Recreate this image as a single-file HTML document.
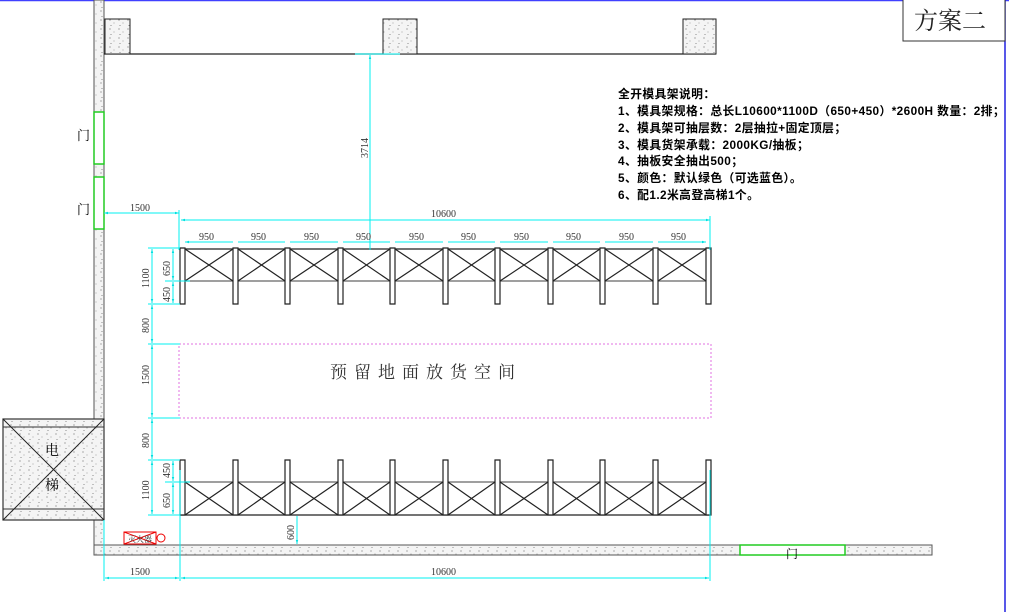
<!DOCTYPE html>
<html><head><meta charset="utf-8"><style>
html,body{margin:0;padding:0;background:#fff}
svg{display:block}
text{font-family:"Liberation Serif","Noto Serif CJK SC",serif}
.c{stroke:#00f0f0;stroke-width:1;fill:none}
.d{font-size:10px;fill:#333}
.n{font-family:"Liberation Sans","Noto Sans CJK SC",sans-serif;font-size:11.8px;font-weight:bold;fill:#000;letter-spacing:0.4px}
</style></head><body>
<svg width="1009" height="612" viewBox="0 0 1009 612" xmlns="http://www.w3.org/2000/svg">
<defs>
<pattern id="st" width="9" height="9" patternUnits="userSpaceOnUse">
<rect width="9" height="9" fill="#f4f4f4"/>
<circle cx="2" cy="2" r="0.6" fill="#777"/><circle cx="6" cy="5" r="0.5" fill="#888"/><circle cx="3" cy="7.5" r="0.5" fill="#666"/>
</pattern>
<marker id="a" viewBox="0 0 10 10" refX="10" refY="5" markerWidth="6" markerHeight="4" orient="auto-start-reverse"><path d="M0,2 L10,5 L0,8z" fill="#00e0e0"/></marker>
</defs>
<line x1="0" y1="0.5" x2="1009" y2="0.5" stroke="#4040ff" stroke-width="1.5"/>
<line x1="1005" y1="0" x2="1005" y2="612" stroke="#2020e0" stroke-width="1.5"/>
<rect x="94" y="0" width="10" height="550" fill="url(#st)" stroke="#555"/>
<rect x="94" y="545" width="838" height="10" fill="url(#st)" stroke="#555"/>
<rect x="94" y="112" width="10" height="52" fill="#fff" stroke="#2c2" stroke-width="1.5"/>
<rect x="94" y="177" width="10" height="52" fill="#fff" stroke="#2c2" stroke-width="1.5"/>
<rect x="740" y="545" width="105" height="10" fill="#fff" stroke="#2c2" stroke-width="1.5"/>
<text x="77" y="140" font-size="13">门</text>
<text x="77" y="214" font-size="13">门</text>
<text x="786" y="558" font-size="12">门</text>
<line x1="104" y1="54" x2="716" y2="54" stroke="#222" stroke-width="1.2"/>
<rect x="105" y="19" width="25" height="35" fill="url(#st)" stroke="#222"/>
<rect x="383" y="19" width="34" height="35" fill="url(#st)" stroke="#222"/>
<rect x="683" y="19" width="33" height="35" fill="url(#st)" stroke="#222"/>
<rect x="3" y="419" width="101" height="101" fill="url(#st)" stroke="#333" stroke-width="1.2"/>
<line x1="3" y1="427" x2="104" y2="427" stroke="#333"/><line x1="3" y1="509" x2="104" y2="509" stroke="#333"/>
<line x1="3" y1="419" x2="104" y2="520" stroke="#222"/><line x1="104" y1="419" x2="3" y2="520" stroke="#222"/>
<text x="45" y="455" font-size="14">电</text><text x="45" y="490" font-size="14">梯</text>
<rect x="124" y="532" width="32" height="12" fill="#fff" stroke="#e00"/>
<line x1="124" y1="532" x2="156" y2="544" stroke="#e00"/><line x1="156" y1="532" x2="124" y2="544" stroke="#e00"/>
<text x="128" y="542" font-size="8" fill="#333">灭火器</text>
<circle cx="161" cy="538" r="4" fill="none" stroke="#e00"/>
<rect x="903" y="-1" width="102" height="42" fill="#fff" stroke="#333"/>
<text x="914" y="29" font-size="24" fill="#222">方案二</text>
<text class="n" x="618" y="98">全开模具架说明：</text>
<text class="n" x="618" y="115">1、模具架规格：总长L10600*1100D（650+450）*2600H 数量：2排；</text>
<text class="n" x="618" y="132">2、模具架可抽层数：2层抽拉+固定顶层；</text>
<text class="n" x="618" y="149">3、模具货架承载：2000KG/抽板；</text>
<text class="n" x="618" y="165">4、抽板安全抽出500；</text>
<text class="n" x="618" y="182">5、颜色：默认绿色（可选蓝色）。</text>
<text class="n" x="618" y="199">6、配1.2米高登高梯1个。</text>
<g stroke="#222" fill="none" stroke-width="1.2">
<line x1="180" y1="249" x2="710" y2="249"/><line x1="180" y1="281" x2="710" y2="281" stroke="#666"/>
<path d="M185,249L233,281M233,249L185,281M238,249L285,281M285,249L238,281M290,249L338,281M338,249L290,281M343,249L390,281M390,249L343,281M395,249L443,281M443,249L395,281M448,249L495,281M495,249L448,281M500,249L548,281M548,249L500,281M553,249L600,281M600,249L553,281M605,249L653,281M653,249L605,281M658,249L706,281M706,249L658,281"/>
<path fill="#fff" d="M180,248h5v56h-5zM233,248h5v56h-5zM285,248h5v56h-5zM338,248h5v56h-5zM390,248h5v56h-5zM443,248h5v56h-5zM495,248h5v56h-5zM548,248h5v56h-5zM600,248h5v56h-5zM653,248h5v56h-5zM706,248h5v56h-5z"/>
</g>
<g stroke="#222" fill="none" stroke-width="1.2">
<line x1="180" y1="482" x2="710" y2="482" stroke="#666"/><line x1="180" y1="515" x2="710" y2="515"/>
<path d="M185,482L233,515M233,482L185,515M238,482L285,515M285,482L238,515M290,482L338,515M338,482L290,515M343,482L390,515M390,482L343,515M395,482L443,515M443,482L395,515M448,482L495,515M495,482L448,515M500,482L548,515M548,482L500,515M553,482L600,515M600,482L553,515M605,482L653,515M653,482L605,515M658,482L706,515M706,482L658,515"/>
<path fill="#fff" d="M180,460h5v55h-5zM233,460h5v55h-5zM285,460h5v55h-5zM338,460h5v55h-5zM390,460h5v55h-5zM443,460h5v55h-5zM495,460h5v55h-5zM548,460h5v55h-5zM600,460h5v55h-5zM653,460h5v55h-5zM706,460h5v55h-5z"/>
</g>
<rect x="179" y="344" width="532" height="74" fill="none" stroke="#e070e0" stroke-dasharray="2,2"/>
<text x="330" y="378" font-size="17" fill="#333" letter-spacing="7">预留地面放货空间</text>
<g class="c">
<line x1="104" y1="213" x2="179" y2="213" marker-start="url(#a)" marker-end="url(#a)"/>
<line x1="179" y1="210" x2="179" y2="250"/>
<line x1="181" y1="220" x2="710" y2="220" marker-start="url(#a)" marker-end="url(#a)"/>
<line x1="710" y1="216" x2="710" y2="250"/>
<line x1="370" y1="55" x2="370" y2="250" marker-start="url(#a)"/>
<line x1="355" y1="54" x2="400" y2="54"/>
<path d="M185,242h48M238,242h47M290,242h48M343,242h47M395,242h48M448,242h47M500,242h48M553,242h47M605,242h48M658,242h48" marker-start="url(#a)" marker-end="url(#a)"/>
<line x1="148" y1="248" x2="180" y2="248"/><line x1="148" y1="304" x2="180" y2="304"/>
<line x1="148" y1="344" x2="180" y2="344"/><line x1="148" y1="418" x2="180" y2="418"/>
<line x1="148" y1="460" x2="180" y2="460"/><line x1="148" y1="515" x2="180" y2="515"/>
<line x1="165" y1="281" x2="190" y2="281"/><line x1="165" y1="482" x2="190" y2="482"/>
<line x1="152" y1="249" x2="152" y2="303" marker-start="url(#a)" marker-end="url(#a)"/>
<line x1="152" y1="305" x2="152" y2="343" marker-start="url(#a)" marker-end="url(#a)"/>
<line x1="152" y1="345" x2="152" y2="417" marker-start="url(#a)" marker-end="url(#a)"/>
<line x1="152" y1="419" x2="152" y2="459" marker-start="url(#a)" marker-end="url(#a)"/>
<line x1="152" y1="461" x2="152" y2="514" marker-start="url(#a)" marker-end="url(#a)"/>
<line x1="173" y1="249" x2="173" y2="280" marker-start="url(#a)" marker-end="url(#a)"/>
<line x1="173" y1="282" x2="173" y2="303" marker-start="url(#a)" marker-end="url(#a)"/>
<line x1="173" y1="461" x2="173" y2="481" marker-start="url(#a)" marker-end="url(#a)"/>
<line x1="173" y1="483" x2="173" y2="514" marker-start="url(#a)" marker-end="url(#a)"/>
<line x1="297" y1="516" x2="297" y2="544" marker-end="url(#a)"/>
<line x1="104" y1="520" x2="104" y2="581"/><line x1="180" y1="470" x2="180" y2="581"/><line x1="710" y1="470" x2="710" y2="581"/>
<line x1="105" y1="578" x2="179" y2="578" marker-start="url(#a)" marker-end="url(#a)"/>
<line x1="181" y1="578" x2="709" y2="578" marker-start="url(#a)" marker-end="url(#a)"/>
</g>
<g class="d">
<text x="130" y="211">1500</text><text x="431" y="217">10600</text>
<text x="199" y="240">950</text><text x="251" y="240">950</text><text x="304" y="240">950</text><text x="356" y="240">950</text><text x="409" y="240">950</text><text x="461" y="240">950</text><text x="514" y="240">950</text><text x="566" y="240">950</text><text x="619" y="240">950</text><text x="671" y="240">950</text>
<text transform="translate(368,158) rotate(-90)">3714</text>
<text transform="translate(149,288) rotate(-90)">1100</text>
<text transform="translate(170,276) rotate(-90)">650</text>
<text transform="translate(170,302) rotate(-90)">450</text>
<text transform="translate(149,333) rotate(-90)">800</text>
<text transform="translate(149,385) rotate(-90)">1500</text>
<text transform="translate(149,448) rotate(-90)">800</text>
<text transform="translate(149,500) rotate(-90)">1100</text>
<text transform="translate(170,478) rotate(-90)">450</text>
<text transform="translate(170,508) rotate(-90)">650</text>
<text transform="translate(294,540) rotate(-90)">600</text>
<text x="130" y="575">1500</text><text x="431" y="575">10600</text>
</g>
</svg>
</body></html>
